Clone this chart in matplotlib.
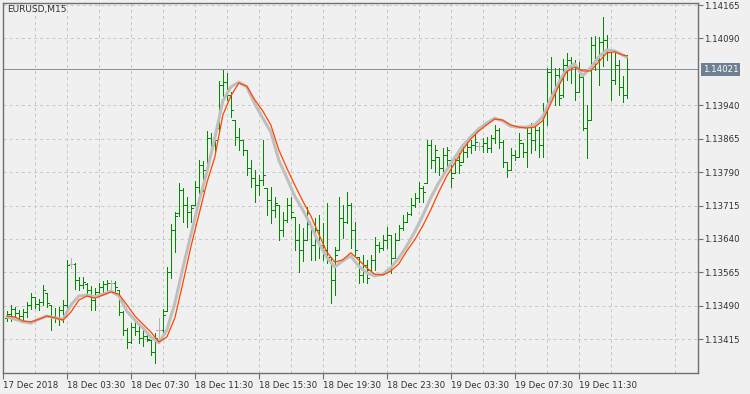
import matplotlib
matplotlib.use("Agg")
import matplotlib.pyplot as plt
from matplotlib.transforms import blended_transform_factory

plt.rcParams['font.family'] = ['DejaVu Sans']
plt.rcParams['lines.scale_dashes'] = False

symbol_title = "EURUSD,M15"

opens = [1.13463, 1.13472, 1.13483, 1.13474, 1.13467, 1.13476, 1.13492, 1.13510, 1.13494, 1.13499,
         1.13519, 1.13492, 1.13467, 1.13463, 1.13481, 1.13492, 1.13584, 1.13584, 1.13548, 1.13537,
         1.13539, 1.13525, 1.13503, 1.13521, 1.13532, 1.13539, 1.13541, 1.13541, 1.13525, 1.13476,
         1.13436, 1.13409, 1.13442, 1.13433, 1.13418, 1.13422, 1.13413, 1.13386, 1.13436, 1.13436,
         1.13478, 1.13566, 1.13660, 1.13698, 1.13750, 1.13716, 1.13701, 1.13716, 1.13757, 1.13806,
         1.13795, 1.13867, 1.13851, 1.13889, 1.13986, 1.13992, 1.13963, 1.13907, 1.13869, 1.13862,
         1.13840, 1.13799, 1.13777, 1.13761, 1.13772, 1.13754, 1.13727, 1.13705, 1.13716, 1.13660,
         1.13683, 1.13716, 1.13689, 1.13638, 1.13615, 1.13638, 1.13674, 1.13626, 1.13660, 1.13626,
         1.13615, 1.13600, 1.13548, 1.13615, 1.13687, 1.13678, 1.13716, 1.13660, 1.13600, 1.13559,
         1.13582, 1.13570, 1.13593, 1.13626, 1.13620, 1.13638, 1.13649, 1.13597, 1.13638, 1.13665,
         1.13678, 1.13696, 1.13716, 1.13732, 1.13754, 1.13766, 1.13851, 1.13817, 1.13824, 1.13799,
         1.13828, 1.13817, 1.13788, 1.13817, 1.13813, 1.13835, 1.13846, 1.13851, 1.13849, 1.13849,
         1.13855, 1.13844, 1.13867, 1.13885, 1.13857, 1.13813, 1.13795, 1.13828, 1.13824, 1.13855,
         1.13835, 1.13878, 1.13862, 1.13885, 1.13851, 1.13929, 1.14015, 1.13970, 1.14008, 1.13963,
         1.14030, 1.14042, 1.14030, 1.13970, 1.14003, 1.13889, 1.13907, 1.14075, 1.14042, 1.14082,
         1.14086, 1.14060, 1.13997, 1.14030, 1.13981, 1.13963]

highs = [1.13478, 1.13492, 1.13487, 1.13481, 1.13483, 1.13499, 1.13519, 1.13510, 1.13505, 1.13537,
         1.13519, 1.13492, 1.13485, 1.13487, 1.13503, 1.13593, 1.13597, 1.13586, 1.13555, 1.13555,
         1.13541, 1.13534, 1.13530, 1.13541, 1.13546, 1.13548, 1.13548, 1.13546, 1.13525, 1.13478,
         1.13440, 1.13451, 1.13454, 1.13449, 1.13436, 1.13424, 1.13413, 1.13429, 1.13463, 1.13483,
         1.13577, 1.13674, 1.13701, 1.13766, 1.13754, 1.13734, 1.13716, 1.13770, 1.13817, 1.13815,
         1.13882, 1.13878, 1.13878, 1.13994, 1.14019, 1.14012, 1.13970, 1.13907, 1.13889, 1.13862,
         1.13840, 1.13817, 1.13795, 1.13784, 1.13862, 1.13754, 1.13757, 1.13734, 1.13716, 1.13701,
         1.13732, 1.13734, 1.13689, 1.13674, 1.13665, 1.13712, 1.13674, 1.13687, 1.13694, 1.13676,
         1.13721, 1.13600, 1.13622, 1.13734, 1.13716, 1.13745, 1.13721, 1.13678, 1.13600, 1.13604,
         1.13593, 1.13604, 1.13644, 1.13633, 1.13649, 1.13667, 1.13649, 1.13653, 1.13671, 1.13694,
         1.13701, 1.13732, 1.13743, 1.13768, 1.13759, 1.13862, 1.13862, 1.13851, 1.13824, 1.13844,
         1.13846, 1.13817, 1.13828, 1.13833, 1.13846, 1.13857, 1.13862, 1.13873, 1.13857, 1.13866,
         1.13869, 1.13873, 1.13896, 1.13889, 1.13862, 1.13813, 1.13844, 1.13840, 1.13878, 1.13855,
         1.13889, 1.13900, 1.13896, 1.13891, 1.13945, 1.14024, 1.14048, 1.14024, 1.14024, 1.14044,
         1.14057, 1.14048, 1.14042, 1.14037, 1.14003, 1.13941, 1.14093, 1.14095, 1.14093, 1.14138,
         1.14098, 1.14060, 1.14057, 1.14042, 1.14006, 1.14053]

lows = [1.13456, 1.13456, 1.13465, 1.13463, 1.13454, 1.13465, 1.13483, 1.13485, 1.13481, 1.13492,
        1.13487, 1.13436, 1.13454, 1.13447, 1.13454, 1.13481, 1.13575, 1.13528, 1.13525, 1.13530,
        1.13514, 1.13481, 1.13481, 1.13514, 1.13521, 1.13521, 1.13523, 1.13521, 1.13469, 1.13424,
        1.13395, 1.13406, 1.13424, 1.13406, 1.13400, 1.13411, 1.13380, 1.13362, 1.13413, 1.13424,
        1.13478, 1.13552, 1.13611, 1.13692, 1.13678, 1.13667, 1.13678, 1.13716, 1.13743, 1.13748,
        1.13790, 1.13840, 1.13835, 1.13885, 1.13961, 1.13952, 1.13914, 1.13851, 1.13840, 1.13828,
        1.13784, 1.13757, 1.13723, 1.13739, 1.13761, 1.13694, 1.13676, 1.13689, 1.13638, 1.13647,
        1.13678, 1.13687, 1.13615, 1.13566, 1.13591, 1.13638, 1.13593, 1.13593, 1.13597, 1.13593,
        1.13586, 1.13496, 1.13514, 1.13615, 1.13642, 1.13676, 1.13620, 1.13604, 1.13541, 1.13543,
        1.13541, 1.13570, 1.13570, 1.13611, 1.13615, 1.13620, 1.13564, 1.13597, 1.13638, 1.13660,
        1.13678, 1.13694, 1.13712, 1.13723, 1.13723, 1.13766, 1.13799, 1.13790, 1.13784, 1.13790,
        1.13801, 1.13757, 1.13788, 1.13788, 1.13813, 1.13824, 1.13833, 1.13840, 1.13840, 1.13835,
        1.13835, 1.13835, 1.13855, 1.13844, 1.13801, 1.13779, 1.13795, 1.13817, 1.13824, 1.13824,
        1.13801, 1.13833, 1.13840, 1.13824, 1.13824, 1.13896, 1.13959, 1.13941, 1.13941, 1.13959,
        1.13997, 1.13990, 1.13952, 1.13970, 1.13885, 1.13822, 1.13907, 1.14019, 1.13986, 1.14028,
        1.14042, 1.13952, 1.13988, 1.13963, 1.13947, 1.13956]

closes = [1.13472, 1.13483, 1.13474, 1.13467, 1.13476, 1.13492, 1.13510, 1.13494, 1.13499, 1.13525,
          1.13496, 1.13467, 1.13463, 1.13481, 1.13492, 1.13582, 1.13584, 1.13548, 1.13537, 1.13543,
          1.13525, 1.13503, 1.13521, 1.13532, 1.13539, 1.13541, 1.13541, 1.13532, 1.13476, 1.13436,
          1.13409, 1.13442, 1.13433, 1.13418, 1.13422, 1.13415, 1.13386, 1.13418, 1.13436, 1.13469,
          1.13566, 1.13660, 1.13692, 1.13750, 1.13716, 1.13701, 1.13710, 1.13757, 1.13806, 1.13777,
          1.13867, 1.13851, 1.13862, 1.13986, 1.13992, 1.13963, 1.13929, 1.13869, 1.13862, 1.13840,
          1.13799, 1.13777, 1.13761, 1.13772, 1.13784, 1.13727, 1.13705, 1.13721, 1.13660, 1.13683,
          1.13716, 1.13701, 1.13638, 1.13615, 1.13638, 1.13698, 1.13626, 1.13660, 1.13626, 1.13615,
          1.13600, 1.13548, 1.13604, 1.13687, 1.13678, 1.13716, 1.13660, 1.13615, 1.13559, 1.13582,
          1.13552, 1.13593, 1.13626, 1.13620, 1.13638, 1.13649, 1.13582, 1.13638, 1.13665, 1.13678,
          1.13696, 1.13716, 1.13732, 1.13754, 1.13745, 1.13851, 1.13817, 1.13840, 1.13799, 1.13828,
          1.13840, 1.13777, 1.13817, 1.13806, 1.13835, 1.13846, 1.13851, 1.13857, 1.13849, 1.13855,
          1.13844, 1.13867, 1.13885, 1.13857, 1.13813, 1.13795, 1.13828, 1.13824, 1.13862, 1.13835,
          1.13878, 1.13862, 1.13885, 1.13851, 1.13929, 1.14015, 1.13970, 1.14008, 1.13956, 1.14030,
          1.14042, 1.14030, 1.13970, 1.14019, 1.13889, 1.13907, 1.14075, 1.14042, 1.14082, 1.14086,
          1.14060, 1.13997, 1.14030, 1.13981, 1.13963, 1.14021]

doji_bars = [16, 26, 38, 118]

ma_idx = list(range(0, 156, 2)) + [155]
ma_gray = [1.13465, 1.13460, 1.13454, 1.13451, 1.13460, 1.13467, 1.13463, 1.13460, 1.13492, 1.13512,
           1.13514, 1.13510, 1.13516, 1.13523, 1.13512, 1.13478, 1.13458, 1.13440, 1.13420, 1.13407,
           1.13436, 1.13496, 1.13575, 1.13649, 1.13723, 1.13790, 1.13867, 1.13950, 1.13981, 1.13992,
           1.13981, 1.13943, 1.13911, 1.13880, 1.13817, 1.13777, 1.13736, 1.13705, 1.13671, 1.13631,
           1.13599, 1.13577, 1.13591, 1.13602, 1.13579, 1.13564, 1.13557, 1.13561, 1.13575, 1.13597,
           1.13624, 1.13656, 1.13692, 1.13732, 1.13766, 1.13795, 1.13822, 1.13849, 1.13869, 1.13887,
           1.13900, 1.13911, 1.13905, 1.13893, 1.13891, 1.13891, 1.13896, 1.13914, 1.13954, 1.13990,
           1.14021, 1.14033, 1.14006, 1.14024, 1.14048, 1.14064, 1.14062, 1.14053, 1.14048]
ma_orange = [1.13467, 1.13465, 1.13456, 1.13454, 1.13460, 1.13467, 1.13463, 1.13458, 1.13476, 1.13503,
             1.13512, 1.13507, 1.13514, 1.13521, 1.13516, 1.13492, 1.13467, 1.13449, 1.13431, 1.13409,
             1.13420, 1.13463, 1.13541, 1.13622, 1.13694, 1.13766, 1.13824, 1.13918, 1.13961, 1.13990,
             1.13983, 1.13952, 1.13927, 1.13896, 1.13840, 1.13799, 1.13761, 1.13725, 1.13692, 1.13651,
             1.13611, 1.13588, 1.13593, 1.13609, 1.13593, 1.13575, 1.13561, 1.13559, 1.13568, 1.13584,
             1.13613, 1.13638, 1.13669, 1.13705, 1.13745, 1.13781, 1.13810, 1.13840, 1.13864, 1.13882,
             1.13896, 1.13909, 1.13907, 1.13896, 1.13891, 1.13889, 1.13891, 1.13905, 1.13943, 1.13983,
             1.14015, 1.14026, 1.14017, 1.14017, 1.14037, 1.14057, 1.14060, 1.14053, 1.14051]

current_price = 1.14021
ytick_vals = [1.13415, 1.13490, 1.13565, 1.13640, 1.13715, 1.13790, 1.13865, 1.13940, 1.14090, 1.14165]
xtick_idx = [-1, 15, 31, 47, 63, 79, 95, 111, 127, 143]
xtick_labels = ["17 Dec 2018", "18 Dec 03:30", "18 Dec 07:30", "18 Dec 11:30", "18 Dec 15:30",
                "18 Dec 19:30", "18 Dec 23:30", "19 Dec 03:30", "19 Dec 07:30", "19 Dec 11:30"]
xgrid_idx = list(range(7, 172, 16))

BG = '#f0f0f0'
FRAME = '#707070'
GRID = '#c8c8c8'
BAR = '#008c00'
DOJI = '#b4b4b4'
TXT = '#303030'
FS = 6.2
PX = 0.72  # one pixel in points at 100 dpi

fig = plt.figure(figsize=(7.5, 3.94), dpi=100, facecolor=BG)
ax = fig.add_axes([2.5 / 750, 21 / 394, 695 / 750, 370 / 394])
ax.set_facecolor(BG)
ax.set_xlim(-1.125, 172.75)
ax.set_ylim(1.133392, 1.141695)

# grid
for gx in xgrid_idx + xtick_idx[1:]:
    ax.axvline(gx, color=GRID, lw=PX, ls=(0, (2.2, 2.2)), zorder=0)
for gy in ytick_vals:
    ax.axhline(gy, color=GRID, lw=PX, ls=(0, (2.2, 2.2)), zorder=0)

# current price line
ax.axhline(current_price, color='#8591a0', lw=PX, zorder=1, antialiased=False)

# bars
n = len(opens)
idx = list(range(n))
colors = [DOJI if i in doji_bars else BAR for i in idx]
tick = 0.6
ax.vlines(idx, lows, highs, colors=colors, lw=PX, zorder=2, antialiased=False)
ax.hlines(opens, [i - tick for i in idx], idx, colors=colors, lw=PX, zorder=2, antialiased=False)
ax.hlines(closes, idx, [i + tick for i in idx], colors=colors, lw=PX, zorder=2, antialiased=False)

# indicator lines
ax.plot(ma_idx, ma_gray, color='#bfbfbf', lw=2.2, zorder=3, solid_capstyle='round')
ax.plot(ma_idx, ma_orange, color='#ff4500', lw=0.9, zorder=4)

# axes styling
for s in ax.spines.values():
    s.set_color(FRAME)
    s.set_linewidth(1.0)
ax.yaxis.tick_right()
ax.set_yticks(ytick_vals)
ax.set_yticklabels([f"{v:.5f}" for v in ytick_vals])
ax.set_xticks(xtick_idx)
ax.set_xticklabels(xtick_labels)
for lbl in ax.get_xticklabels():
    lbl.set_horizontalalignment('left')
ax.tick_params(axis='y', direction='out', length=3.5, width=0.8, color=FRAME,
               labelsize=FS, labelcolor=TXT, pad=1.5)
ax.tick_params(axis='x', direction='out', length=4, width=0.8, color=FRAME,
               labelsize=FS, labelcolor=TXT, pad=1.5)

# title
ax.text(0.0065, 0.982, symbol_title, transform=ax.transAxes, fontsize=FS + 0.3,
        color=TXT, ha='left', va='center')

# price label box
tr = blended_transform_factory(ax.transAxes, ax.transData)
ax.text(1.0075, current_price, f"{current_price:.5f}", transform=tr, fontsize=FS,
        color='white', ha='left', va='center', clip_on=False,
        bbox=dict(boxstyle='square,pad=0.22', facecolor='#6f8092', edgecolor='none'))

fig.savefig('out.png', dpi=100, facecolor=BG)
